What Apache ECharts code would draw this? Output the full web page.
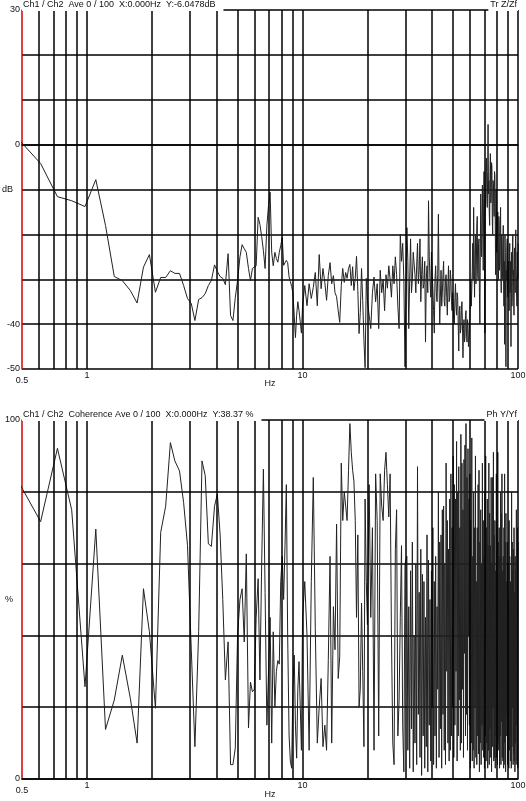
<!DOCTYPE html>
<html>
<head>
<meta charset="utf-8">
<script src="https://cdn.jsdelivr.net/npm/echarts@6/dist/echarts.min.js"></script>
<style>
  html, body { margin: 0; padding: 0; background: #fff; }
  #chart { width: 526px; height: 801px; }
</style>
</head>
<body>
<div id="chart"></div>
<script>
// FFT bins (Hz), full resolution below 10 Hz, thinned where the trace is a dense band
const freqHz = [
  0.49, 0.61, 0.73, 0.85, 0.98, 1.10, 1.22, 1.34, 1.46, 1.59,
  1.71, 1.83, 1.95, 2.08, 2.20, 2.32, 2.44, 2.56, 2.69, 2.81,
  2.93, 3.05, 3.17, 3.30, 3.42, 3.54, 3.66, 3.78, 3.91, 4.03,
  4.15, 4.27, 4.39, 4.52, 4.64, 4.76, 4.88, 5.00, 5.13, 5.25,
  5.37, 5.49, 5.62, 5.74, 5.86, 5.98, 6.10, 6.23, 6.35, 6.47,
  6.59, 6.71, 6.84, 6.96, 7.08, 7.20, 7.32, 7.45, 7.57, 7.69,
  7.81, 7.93, 8.06, 8.18, 8.30, 8.42, 8.54, 8.67, 8.79, 8.91,
  9.03, 9.16, 9.28, 9.40, 9.52, 9.64, 9.77, 9.89, 10.01,
  10.25, 10.50, 10.74, 10.99, 11.23, 11.47, 11.72, 11.96, 12.21, 12.45,
  12.70, 12.94, 13.18, 13.43, 13.67, 13.92, 14.16, 14.40, 14.65, 14.89,
  15.14, 15.38, 15.63, 15.87, 16.11, 16.36, 16.60, 16.85, 17.09, 17.33,
  17.58, 17.82, 18.07, 18.31, 18.55, 18.80, 19.04, 19.29, 19.53, 19.78,
  20.02,
  20.39, 20.75, 21.12, 21.48, 21.85, 22.22, 22.58, 22.95, 23.32, 23.68,
  24.05, 24.41, 24.78, 25.15, 25.51, 25.88, 26.25, 26.61, 26.98, 27.34,
  27.71, 28.08, 28.44, 28.81, 29.18, 29.54, 29.91,
  30.52, 30.83, 31.13, 31.44, 31.74, 32.05, 32.35, 32.66, 32.96, 33.27,
  33.57, 33.88, 34.18, 34.49, 34.79, 35.10, 35.40, 35.71, 36.01, 36.32,
  36.62, 36.93, 37.23, 37.54, 37.84, 38.15, 38.45, 38.76, 39.06, 39.37,
  39.67, 39.98, 40.28, 40.59, 40.89, 41.20, 41.50, 41.81, 42.11, 42.42,
  42.73, 43.03, 43.34, 43.64, 43.95, 44.25, 44.56, 44.86, 45.17, 45.47,
  45.78, 46.09, 46.39, 46.70, 47.00, 47.31, 47.61, 47.92, 48.22, 48.53,
  48.83, 49.14, 49.45, 49.75, 50.06, 50.36, 50.67, 50.97, 51.28, 51.58,
  51.88, 52.19, 52.50, 52.80, 53.11, 53.41, 53.72, 54.02, 54.33, 54.63,
  54.94, 55.24, 55.55, 55.85, 56.16, 56.46, 56.77, 57.07, 57.38, 57.68,
  57.99, 58.30, 58.60, 58.91, 59.21, 59.52, 59.82, 60.13, 60.43, 60.74,
  61.04, 61.35, 61.65, 61.96, 62.26, 62.57, 62.87, 63.18, 63.48, 63.79,
  64.09, 64.40, 64.71, 65.01, 65.32, 65.62, 65.93, 66.23, 66.54, 66.84,
  67.14, 67.45, 67.76, 68.06, 68.37, 68.67, 68.98, 69.28, 69.59, 69.89,
  70.20, 70.50, 70.81, 71.12, 71.42, 71.73, 72.03, 72.34, 72.64, 72.95,
  73.25, 73.56, 73.86, 74.17, 74.47, 74.78, 75.08, 75.39, 75.69, 76.00,
  76.30, 76.61, 76.92, 77.22, 77.53, 77.83, 78.14, 78.44, 78.75, 79.05,
  79.36, 79.66, 79.97, 80.27, 80.58, 80.88, 81.19, 81.49, 81.80, 82.11,
  82.41, 82.72, 83.02, 83.33, 83.63, 83.94, 84.24, 84.55, 84.85, 85.16,
  85.46, 85.77, 86.07, 86.38, 86.68, 86.99, 87.30, 87.60, 87.91, 88.21,
  88.52, 88.82, 89.13, 89.43, 89.74, 90.04, 90.35, 90.65, 90.96, 91.26,
  91.57, 91.87, 92.18, 92.49, 92.79, 93.10, 93.40, 93.71, 94.01, 94.32,
  94.62, 94.93, 95.23, 95.54, 95.84, 96.15, 96.45, 96.76, 97.06, 97.37,
  97.68, 97.98, 98.29, 98.59, 98.90, 99.20, 99.51, 99.81, 100.12
]

// Tr Z/Zf, dB
const transferDb = [
  0.8, -4.2, -11.6, -12.5, -13.8, -7.8, -18.0, -29.4, -30.3, -32.5,
  -35.3, -27.3, -24.5, -32.9, -29.6, -29.6, -28.1, -28.7, -28.7, -31.4,
  -34.3, -35.4, -39.2, -34.5, -34.1, -33.2, -31.4, -30.3, -26.8, -28.3,
  -29.4, -29.8, -31.2, -24.3, -38.1, -39.2, -34.1, -30.3, -25.0, -22.3,
  -23.2, -24.0, -27.6, -30.3, -27.6, -27.6, -27.0, -16.2, -17.8, -20.5,
  -23.6, -27.6, -18.0, -13.6, -10.6, -24.0, -27.0, -24.0, -25.4, -26.2,
  -24.0, -22.5, -20.7, -26.9, -26.5, -25.8, -26.3, -29.5, -30.5, -31.6,
  -33.0, -38.0, -43.0, -38.0, -35.0, -37.0, -39.5, -42.0, -36.0,
  -31.4, -35.9, -31.0, -34.3, -31.8, -28.5, -35.9, -24.5, -32.1, -27.6,
  -30.7, -34.7, -29.2, -26.3, -31.0, -29.2, -33.0, -33.9, -37.0, -39.6,
  -31.4, -27.6, -30.7, -28.5, -29.8, -27.6, -26.7, -31.4, -27.2, -32.5,
  -29.8, -24.9, -32.5, -42.1, -37.4, -27.6, -34.7, -43.7, -49.7, -29.8,
  -34.7,
  -38, -41, -33, -29.5, -35, -31, -41, -28, -33, -30,
  -37, -29, -32, -27, -30, -34, -27, -31, -25, -29,
  -36, -41, -20, -26, -22, -30, -49.5,
  -18.5, -26, -41, -30, -21, -33, -30, -24, -24, -29,
  -33, -27, -22, -31, -28, -21, -35, -29, -25, -32,
  -31, -26, -44, -30, -27, -33, -12.5, -25, -30, -34,
  -24, -29, -32, -37, -42, -30, -27, -33, -35, -29,
  -15.5, -31, -40, -34, -28, -36, -33, -29, -26, -35,
  -36, -30, -29, -34, -38, -31, -27, -35, -34, -28,
  -30, -35, -37, -33, -33, -39, -40, -34, -31, -36,
  -38, -33, -34, -40, -46, -37, -36, -42, -41, -37,
  -35, -40, -47.5, -41, -39, -44, -43, -38, -37, -42,
  -44, -39, -40, -45, -45, -41, -38, -35, -30, -36,
  -36, -28, -22, -30, -14, -26, -34, -24, -20, -31,
  -27, -18, -16, -29, -30, -22, -21, -33, -40, -25,
  -11, -22, -25, -15, -9, -20, -28, -12, -6, -17,
  -42, -16, -10, -4, -3, -12, -14, -6, 4.5, -11,
  -8, -15, -18, -6, -2, -13, -12, -4, -5, -17,
  -20, -8, -9, -14, -16, -6, -7, -18, -29, -10,
  -13, -24, -21, -17, -15, -25, -30, -16, -19, -28,
  -26, -18, -14, -29, -33, -20, -22, -30, -28, -21,
  -18, -31, -36, -26, -44.5, -20, -24, -35, -49.5, -28,
  -30, -23, -21, -32, -34, -27, -26, -30, -37, -24,
  -22, -33, -31, -26, -45, -30, -24, -36, -34, -22,
  -20, -29, -28, -35, -38, -25, -23, -31, -33, -21,
  -19, -27, -30, -34, -36, -24, -26, -30, -22
]

// Coherence, %
const coherencePct = [
  82, 71.7, 92.1, 75, 25.7, 69.6, 13.8, 22, 34.5, 22.5,
  10, 53, 41, 19.7, 68.7, 76, 93.7, 88.6, 85.8, 77,
  65, 36, 9, 41, 88.6, 84.5, 65.5, 64.8, 76, 79.4,
  68, 50, 27.6, 38.2, 4, 4, 8.6, 40, 50, 53,
  38.2, 62.7, 14.2, 27, 24.3, 25, 45, 55.8, 27.6, 60,
  86.3, 52, 15, 30, 45, 10, 41, 20, 30, 33,
  32, 55, 62, 50, 65, 82, 40, 12, 5, 3,
  25, 34.5, 15, 5.8, 25, 32.7, 20, 8, 45,
  55, 40, 8, 55, 84, 42, 10, 20, 28, 9,
  15, 8, 33, 62, 10, 48, 36, 71, 28, 34,
  88, 72, 80, 76, 72, 86, 99, 91, 86, 83,
  72, 45, 68, 20, 25, 49, 30, 9, 78, 55,
  43,
  82, 45, 70, 8, 85, 72, 12, 85, 76, 72,
  86, 91, 82, 73, 85, 40, 10, 4, 64, 75,
  12, 22, 45, 65, 15, 2, 60,
  62, 8, 48, 3, 58, 14, 66, 2, 40, 10,
  60, 4, 87, 18, 52, 6, 64, 1, 57, 12,
  55, 3, 45, 9, 68, 2, 61, 15, 50, 5,
  58, 20, 70, 4, 55, 12, 62, 3, 48, 25,
  80, 6, 66, 14, 68, 3, 75, 18, 76, 8,
  60, 4, 88, 30, 72, 10, 64, 5, 78, 8,
  85, 12, 70, 20, 90, 6, 82, 15, 78, 30,
  94, 5, 80, 12, 87, 22, 70, 8, 96, 10,
  88, 25, 75, 6, 89, 35, 93, 12, 99, 18,
  84, 8, 92, 40, 78, 15, 85, 3, 72, 10,
  95, 5, 62, 8, 80, 3, 70, 20, 90, 6,
  55, 4, 70, 12, 82, 7, 86, 2, 66, 10,
  75, 4, 60, 15, 88, 8, 72, 6, 62, 3,
  80, 12, 90, 5, 70, 10, 78, 3, 65, 8,
  88, 4, 74, 14, 65, 6, 84, 2, 60, 9,
  84, 20, 91, 5, 68, 6, 72, 3, 58, 12,
  85, 6, 70, 4, 91, 10, 66, 8, 70, 3,
  62, 12, 80, 4, 74, 16, 85, 6, 58, 5,
  62, 3, 70, 10, 85, 4, 66, 2, 74, 12,
  55, 18, 66, 4, 60, 6, 50, 3, 72, 8,
  62, 12, 55, 5, 48, 3, 80, 9, 66, 20,
  58, 4, 64, 7, 70, 5, 52, 2, 62, 10,
  58, 4, 75, 15, 64, 5, 70, 3, 66
]

// vertical grid lines of the log frequency axis
const gridHz = [0.6, 0.7, 0.8, 0.9, 1, 2, 3, 4, 5, 6, 7, 8, 9, 10, 20, 30, 40, 50, 60, 70, 80, 90, 100]
const dbLabels = [30, 0, -40, -50]
const pctLabels = [100, 0]

const FONT = 'Liberation Sans, Arial, sans-serif'
const textStyle = { fontFamily: FONT, fontSize: 9, color: '#111' }

function freqAxis(gridIndex, nameGap) {
  return {
    type: 'log',
    logBase: 10,
    gridIndex,
    min: 0.5,
    max: 100,
    name: 'Hz',
    nameLocation: 'middle',
    nameGap,
    nameMoveOverlap: false,
    nameTextStyle: textStyle,
    axisLine: { show: true, lineStyle: { color: '#000', width: 1.5 } },
    axisTick: { show: false },
    splitLine: { show: false },
    axisLabel: {
      ...textStyle,
      margin: 2,
      formatter: (value) => (value < 0.75 ? '{lo|0.5}' : String(Math.round(value))),
      rich: { lo: { ...textStyle, padding: [5, 0, 0, 0] } }
    }
  }
}

function levelAxis(gridIndex, min, max, interval, name, shown) {
  return {
    type: 'value',
    gridIndex,
    min,
    max,
    interval,
    name,
    nameLocation: 'middle',
    nameRotate: 0,
    nameGap: 9,
    nameMoveOverlap: false,
    nameTextStyle: textStyle,
    axisLine: { show: true, onZero: false, lineStyle: { color: '#d40000', width: 1.5 } },
    axisTick: { show: false },
    splitLine: { show: true, lineStyle: { color: '#000', width: 1.5 } },
    axisLabel: {
      ...textStyle,
      margin: 2,
      formatter: (value) => (shown.includes(value) ? String(value) : '')
    }
  }
}

function gridSeries(index) {
  return {
    type: 'line',
    xAxisIndex: index,
    yAxisIndex: index,
    data: [],
    z: 1,
    silent: true,
    animation: false,
    markLine: {
      silent: true,
      animation: false,
      symbol: ['none', 'none'],
      label: { show: false },
      emphasis: { disabled: true },
      lineStyle: { color: '#000', width: 1.5, type: 'solid' },
      data: gridHz.map((hz) => ({ xAxis: hz }))
    }
  }
}

function traceSeries(index, values) {
  return {
    type: 'line',
    xAxisIndex: index,
    yAxisIndex: index,
    data: freqHz.map((hz, i) => [hz, values[i]]),
    showSymbol: false,
    symbol: 'none',
    z: 3,
    silent: true,
    animation: false,
    lineStyle: { color: '#222', width: 1 }
  }
}

function headerText(text, pos) {
  return {
    text,
    ...pos,
    padding: [0, 8, 1, 1],
    backgroundColor: '#fff',
    z: 10,
    textStyle: { ...textStyle, fontWeight: 'normal', lineHeight: 10 }
  }
}

const chart = echarts.init(document.getElementById('chart'))

chart.setOption({
  backgroundColor: '#fff',
  animation: false,
  title: [
    headerText('Ch1 / Ch2  Ave 0 / 100  X:0.000Hz  Y:-6.0478dB', { left: 22, top: 0 }),
    { ...headerText('Tr Z/Zf', { right: 8, top: 0 }), padding: [0, 1, 1, 2] },
    headerText('Ch1 / Ch2  Coherence Ave 0 / 100  X:0.000Hz  Y:38.37 %', { left: 22, top: 410 }),
    { ...headerText('Ph Y/Yf', { right: 8, top: 410 }), padding: [0, 1, 1, 2] }
  ],
  grid: [
    { left: 22, right: 8, top: 10, height: 359, containLabel: false, outerBoundsMode: 'none' },
    { left: 22, right: 8, top: 420, height: 359, containLabel: false, outerBoundsMode: 'none' }
  ],
  xAxis: [freqAxis(0, 10), freqAxis(1, 11)],
  yAxis: [
    levelAxis(0, -50, 30, 10, 'dB', dbLabels),
    levelAxis(1, 0, 100, 20, '%', pctLabels)
  ],
  series: [
    gridSeries(0),
    gridSeries(1),
    traceSeries(0, transferDb),
    traceSeries(1, coherencePct)
  ]
})
</script>
</body>
</html>
